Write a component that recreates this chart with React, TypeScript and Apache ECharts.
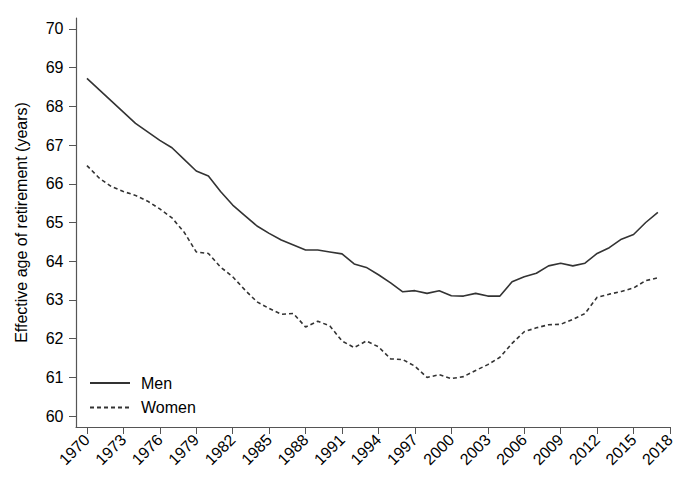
import React, { useEffect, useRef } from "react";
import * as echarts from "echarts";

const years: number[] = [];
for (let y = 1970; y <= 2017; y++) years.push(y);

const menValues = [
  68.72, 68.43, 68.14, 67.85, 67.56, 67.34, 67.12, 66.93, 66.63, 66.33,
  66.2, 65.8, 65.45, 65.18, 64.91, 64.72, 64.55, 64.42, 64.29, 64.29,
  64.24, 64.19, 63.93, 63.84, 63.65, 63.44, 63.21, 63.24, 63.17, 63.24,
  63.11, 63.1, 63.17, 63.1, 63.1, 63.47, 63.6, 63.69, 63.88, 63.95,
  63.88, 63.95, 64.2, 64.35, 64.57, 64.69, 65.0, 65.26,
];

const womenValues = [
  66.47, 66.15, 65.93, 65.8, 65.7, 65.55, 65.35, 65.12, 64.75, 64.24,
  64.2, 63.85, 63.6, 63.26, 62.95, 62.78, 62.63, 62.65, 62.3, 62.45,
  62.33, 61.94, 61.77, 61.94, 61.79, 61.48, 61.46, 61.29, 61.0, 61.07,
  60.97, 61.02, 61.18, 61.33, 61.52, 61.88, 62.18, 62.28, 62.36, 62.37,
  62.5, 62.65, 63.07, 63.15, 63.22, 63.31, 63.5, 63.57,
];

const xTicks = [1970, 1973, 1976, 1979, 1982, 1985, 1988, 1991, 1994, 1997, 2000, 2003, 2006, 2009, 2012, 2015, 2018];
const yTicks = [60, 61, 62, 63, 64, 65, 66, 67, 68, 69, 70];

const FONT = "Liberation Sans, Arial, sans-serif";
const LINE = "#333333";
const AXIS = "#555555";

export default function App() {
  const ref = useRef<HTMLDivElement>(null);
  useEffect(() => {
    if (!ref.current) return;
    const chart = echarts.init(ref.current, undefined, { renderer: "svg" });
    chart.setOption({
      animation: false,
      backgroundColor: "#ffffff",
      textStyle: { fontFamily: FONT },
      grid: { left: 76, right: 15, top: 18, bottom: 71, containLabel: false },
      legend: {
        orient: "vertical",
        left: 84,
        top: 370,
        itemWidth: 40,
        itemHeight: 14,
        itemGap: 8.6,
        itemStyle: { opacity: 0 },
        textStyle: { fontFamily: FONT, fontSize: 16, color: "#000", padding: [0, 0, 0, 6] },
        data: ["Men", "Women"],
      },
      xAxis: {
        type: "value",
        min: 1969.1,
        max: 2018,
        axisLine: { show: true, lineStyle: { color: AXIS, width: 1.2 } },
        axisTick: { show: true, length: 7, lineStyle: { color: AXIS }, customValues: xTicks },
        axisLabel: {
          customValues: xTicks,
          rotate: 45,
          margin: 10,
          fontSize: 16,
          color: "#000",
          fontFamily: FONT,
          formatter: (v: number) => String(v),
        },
        splitLine: { show: false },
      },
      yAxis: {
        type: "value",
        min: 59.72,
        max: 70.28,
        name: "Effective age of retirement (years)",
        nameLocation: "middle",
        nameGap: 47,
        nameTextStyle: { fontFamily: FONT, fontSize: 16, color: "#000" },
        axisLine: { show: true, lineStyle: { color: AXIS, width: 1.2 } },
        axisTick: { show: true, length: 7, lineStyle: { color: AXIS }, customValues: yTicks },
        axisLabel: {
          customValues: yTicks,
          margin: 12.5,
          fontSize: 16,
          color: "#000",
          fontFamily: FONT,
          formatter: (v: number) => String(v),
        },
        splitLine: { show: false },
      },
      series: [
        {
          name: "Men",
          type: "line",
          symbol: "none",
          data: years.map((y, i) => [y, menValues[i]]),
          lineStyle: { color: LINE, width: 1.6, type: "solid" },
          itemStyle: { color: LINE },
        },
        {
          name: "Women",
          type: "line",
          symbol: "none",
          data: years.map((y, i) => [y, womenValues[i]]),
          lineStyle: { color: LINE, width: 1.6, type: [4, 3] },
          itemStyle: { color: LINE },
        },
      ],
    });
    return () => chart.dispose();
  }, []);
  return (
    <div
      ref={ref}
      style={{ position: "fixed", left: 0, top: 0, width: 685, height: 498 }}
    />
  );
}
